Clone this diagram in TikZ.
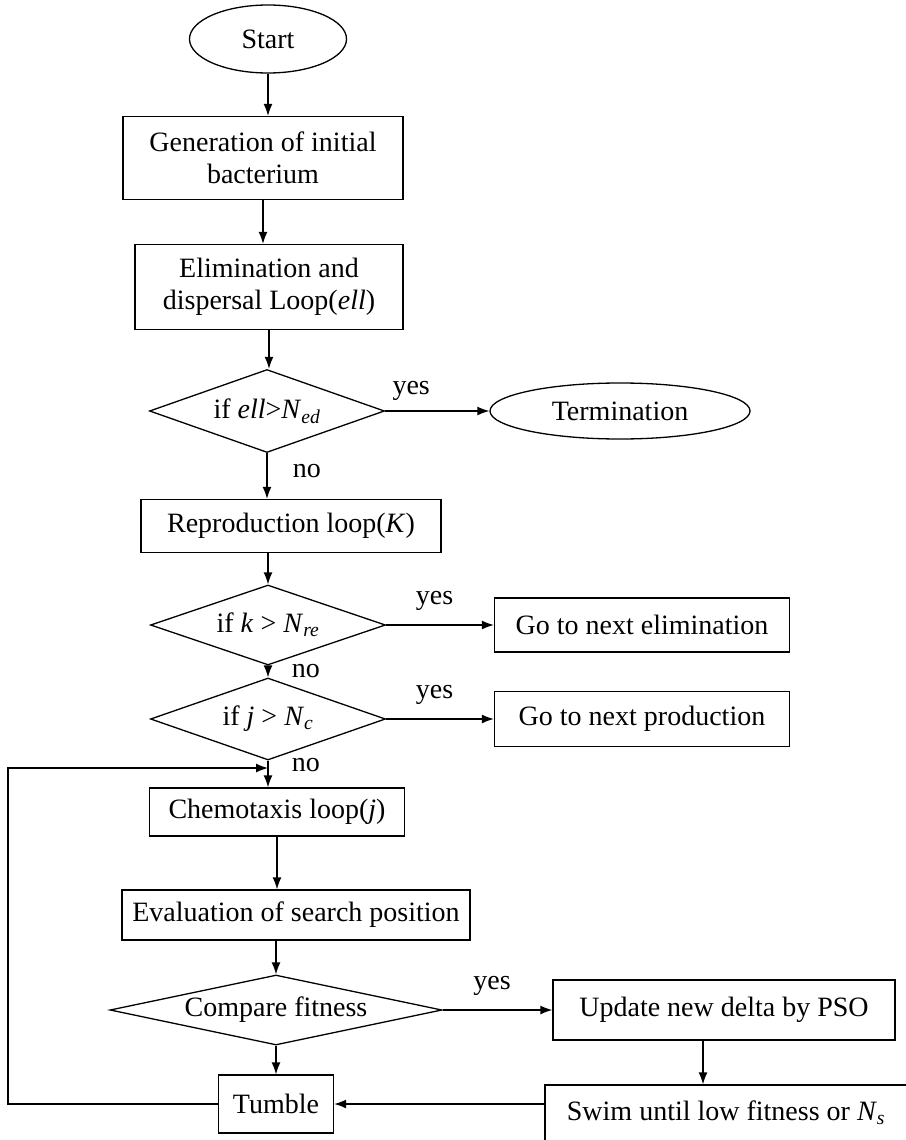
\documentclass[tikz,border=0pt]{standalone}
\usepackage{fontspec}
\setmainfont{Liberation Serif}
\usetikzlibrary{shapes.geometric,arrows.meta}

\begin{document}
\begin{tikzpicture}[x=1pt,y=-1pt,
	box/.style={draw,line width=1.3pt,rectangle,inner sep=0pt,align=center},
	oval/.style={draw,line width=1.3pt,ellipse,inner sep=0pt},
	test/.style={draw,line width=1.3pt,diamond,inner sep=0pt,label={center:#1}},
	flow/.style={->,line width=1.3pt}]
	\tikzset{>={Latex[length=12pt,width=9pt]}}
	\fontsize{28}{32}\selectfont
	\useasboundingbox (0,0) rectangle (905,1140);

	\node[oval,minimum width=157,minimum height=68] (start) at (268,39) {Start};
	\node[box,minimum width=280,minimum height=83] (gen) at (263,158) {Generation of initial\\bacterium};
	\node[box,minimum width=268,minimum height=85] (elim) at (269,287) {Elimination and\\dispersal Loop(\textit{ell})};
	\node[test={if \textit{ell}>\textit{N}\textsubscript{\textit{ed}}},minimum width=235,minimum height=83] (ifell) at (267,411) {};
	\node[oval,minimum width=260,minimum height=56] (term) at (620,411) {Termination};

	\node[box,minimum width=300,minimum height=53] (repro) at (291,526) {Reproduction loop(\textit{K})};
	\node[test={if \textit{k} > \textit{N}\textsubscript{\textit{re}}},minimum width=235,minimum height=80] (ifk) at (268,625) {};
	\node[box,minimum width=295,minimum height=54] (nextelim) at (642,625) {Go to next elimination};
	\node[test={if \textit{j} > \textit{N}\textsubscript{\textit{c}}},minimum width=235,minimum height=82] (ifj) at (268,719) {};
	\node[box,minimum width=295,minimum height=55] (nextprod) at (642,719) {Go to next production};

	\node[box,minimum width=255,minimum height=48] (chemo) at (277,812) {Chemotaxis loop(\textit{j})};
	\node[box,minimum width=348,minimum height=50] (eval) at (296,915) {Evaluation of search position};
	\node[test={Compare fitness},minimum width=332,minimum height=70] (comp) at (276,1010) {};
	\node[box,minimum width=342,minimum height=60] (update) at (724,1010) {Update new delta by PSO};
	\node[box,minimum width=115,minimum height=58] (tumble) at (276,1104) {Tumble};
	\node[box,minimum width=362,minimum height=56] (swim) at (726,1113) {Swim until low fitness or \textit{N}\textsubscript{\textit{s}}};

	\coordinate (join) at (268,768);
	\coordinate (back) at (8,1104);

	\draw[flow] (start.south) -- (start.south |- gen.north);
	\draw[flow] (gen.south) -- (gen.south |- elim.north);
	\draw[flow] (elim.south) -- (elim.south |- ifell.north);
	\draw[flow] (ifell.east) -- node[above,pos=0.25] {yes} (term.west);
	\draw[flow] (ifell.south) -- node[right,pos=0.4,xshift=16] {no} (ifell.south |- repro.north);
	\draw[flow] (repro.south -| ifk.north) -- (ifk.north);
	\draw[flow] (ifk.east) -- node[above,pos=0.45,yshift=4] {yes} (nextelim.west);
	\draw[flow] (ifk.south) -- node[right,xshift=14] {no} (ifj.north);
	\draw[flow] (ifj.east) -- node[above,pos=0.45,yshift=4] {yes} (nextprod.west);
	\draw[line width=1.3pt] (ifj.south) -- node[right,pos=0.6,xshift=14] {no} (join);
	\draw[flow] (join) -- (join |- chemo.north);
	\draw[flow] (chemo.south) -- (chemo.south |- eval.north);
	\draw[flow] (eval.south -| comp.north) -- (comp.north);
	\draw[flow] (comp.south) -- (tumble.north);
	\draw[flow] (comp.east) -- node[above,pos=0.45,yshift=4] {yes} (update.west);
	\draw[flow] ([xshift=-21]update.south) -- ([xshift=-21]update.south |- swim.north);
	\draw[flow] (swim.west |- tumble.east) -- (tumble.east);
	\draw[flow] (tumble.west) -- (back) -- (back |- join) -- (join);

\end{tikzpicture}
\end{document}
